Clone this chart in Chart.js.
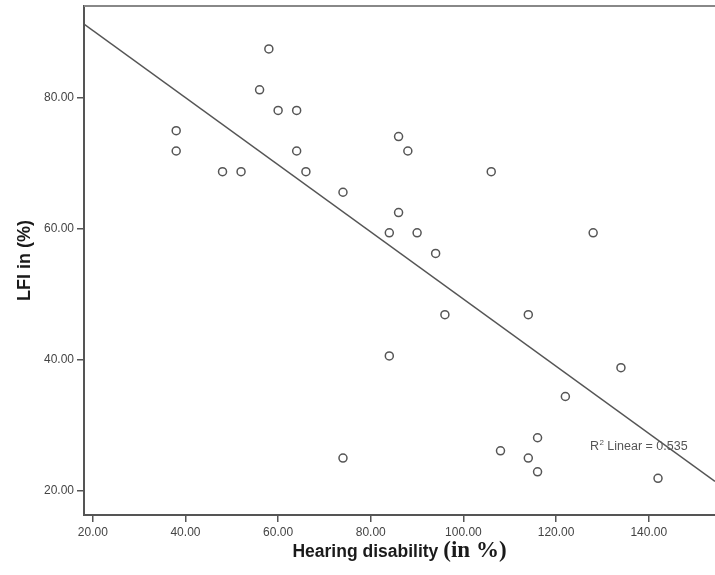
<!DOCTYPE html>
<html>
<head>
<meta charset="utf-8">
<title>LFI vs Hearing disability</title>
<script src="https://cdn.jsdelivr.net/npm/chart.js@4/dist/chart.umd.min.js"></script>
<style>
  html, body { margin: 0; padding: 0; background: #fff; }
  #wrap { width: 715px; height: 575px; }
</style>
</head>
<body>
<div id="wrap"><canvas id="scatter" width="715" height="575"></canvas></div>
<script>
// Hearing disability (%) and LFI (%) per subject
const hearing = [58, 56, 60, 64, 38, 38, 64, 48, 52, 66, 74, 86, 88, 106, 86,
                 84, 90, 94, 128, 74, 96, 114, 84, 134, 122, 116, 108, 114, 116, 142];
const lfi = [87.5, 81.25, 78.1, 78.1, 75, 71.9, 71.9, 68.75, 68.75, 68.75, 65.6, 74.1, 71.9, 68.75, 62.5,
             59.4, 59.4, 56.25, 59.4, 25, 46.9, 46.9, 40.6, 38.8, 34.4, 28.1, 26.1, 25, 22.9, 21.9];

const xTicks = [20, 40, 60, 80, 100, 120, 140];
const yTicks = [20, 40, 60, 80];
const xRange = [18.1, 154.3];
const yRange = [16.3, 94.05];
const r2Text = '0.535';

// least squares fit line
const n = hearing.length;
const mx = hearing.reduce((s, v) => s + v, 0) / n;
const my = lfi.reduce((s, v) => s + v, 0) / n;
let sxy = 0, sxx = 0;
hearing.forEach((x, i) => { sxy += (x - mx) * (lfi[i] - my); sxx += (x - mx) * (x - mx); });
const slope = sxy / sxx;
const icept = my - slope * mx;
const fitPts = xRange.map(x => ({ x, y: icept + slope * x }));

const INK = '#555';
const SANS = '"Liberation Sans", Arial, sans-serif';
const SERIF = '"Liberation Serif", "Times New Roman", serif';

const decor = {
  id: 'decor',
  afterDraw(chart) {
    const { ctx, chartArea: a, scales } = chart;
    ctx.save();
    // top frame line
    ctx.strokeStyle = '#888';
    ctx.lineWidth = 2;
    ctx.beginPath();
    ctx.moveTo(a.left, a.top);
    ctx.lineTo(a.right, a.top);
    ctx.stroke();

    // R² annotation
    ctx.fillStyle = '#555';
    ctx.textBaseline = 'middle';
    ctx.textAlign = 'left';
    let px = scales.x.getPixelForValue(127.3);
    const py = scales.y.getPixelForValue(26.7);
    ctx.font = '12.5px ' + SANS;
    ctx.fillText('R', px, py);
    px += ctx.measureText('R').width;
    ctx.font = '8px ' + SANS;
    ctx.fillText('2', px + 0.5, py - 4);
    px += ctx.measureText('2').width + 0.5;
    ctx.font = '12.5px ' + SANS;
    ctx.fillText(' Linear = ' + r2Text, px, py);

    // x axis title: sans part + serif part
    ctx.fillStyle = '#1a1a1a';
    ctx.textBaseline = 'alphabetic';
    const t1 = 'Hearing disability', t2 = '(in %)';
    ctx.font = 'bold 17.5px ' + SANS;
    const w1 = ctx.measureText(t1).width;
    ctx.font = 'bold 23px ' + SERIF;
    const w2 = ctx.measureText(t2).width;
    const gap = 5;
    const cx = (a.left + a.right) / 2;
    const x0 = cx - (w1 + gap + w2) / 2;
    ctx.font = 'bold 17.5px ' + SANS;
    ctx.fillText(t1, x0, 556.5);
    ctx.font = 'bold 23px ' + SERIF;
    ctx.fillText(t2, x0 + w1 + gap, 556.5);

    // y axis title
    ctx.translate(25, (a.top + a.bottom) / 2);
    ctx.rotate(-Math.PI / 2);
    ctx.textAlign = 'center';
    ctx.textBaseline = 'middle';
    ctx.font = 'bold 18px ' + SANS;
    ctx.fillText('LFI in (%)', 0, 0);
    ctx.restore();
  }
};

const axisStyle = {
  grid: { drawOnChartArea: false, drawTicks: true, tickLength: 7, color: INK, lineWidth: 1.5 },
  border: { display: true, color: INK, width: 2 }
};

new Chart(document.getElementById('scatter'), {
  type: 'scatter',
  data: {
    datasets: [
      {
        label: 'LFI',
        data: hearing.map((x, i) => ({ x, y: lfi[i] })),
        pointRadius: 4,
        pointBorderWidth: 1.5,
        borderColor: INK,
        backgroundColor: 'rgba(255,255,255,0)'
      },
      {
        label: 'Fit',
        data: fitPts,
        showLine: true,
        borderColor: INK,
        borderWidth: 1.5,
        pointRadius: 0,
        fill: false
      }
    ]
  },
  options: {
    responsive: false,
    animation: false,
    layout: { autoPadding: false, padding: { top: 6, right: 0, left: 0, bottom: 0 } },
    plugins: { legend: { display: false }, tooltip: { enabled: false } },
    scales: {
      x: {
        type: 'linear',
        min: xRange[0], max: xRange[1],
        ...axisStyle,
        afterBuildTicks: s => { s.ticks = xTicks.map(v => ({ value: v })); },
        afterFit: s => { s.height = 60; s.paddingLeft = 0; s.paddingRight = 0; },
        ticks: {
          padding: 3,
          color: '#444',
          font: { family: SANS, size: 12 },
          maxRotation: 0,
          callback: v => Number(v).toFixed(2)
        }
      },
      y: {
        type: 'linear',
        min: yRange[0], max: yRange[1],
        ...axisStyle,
        afterBuildTicks: s => { s.ticks = yTicks.map(v => ({ value: v })); },
        afterFit: s => { s.width = 84; s.paddingTop = 0; s.paddingBottom = 0; },
        ticks: {
          padding: 3,
          color: '#444',
          font: { family: SANS, size: 12 },
          callback: v => Number(v).toFixed(2)
        }
      }
    }
  },
  plugins: [decor]
});
</script>
</body>
</html>
